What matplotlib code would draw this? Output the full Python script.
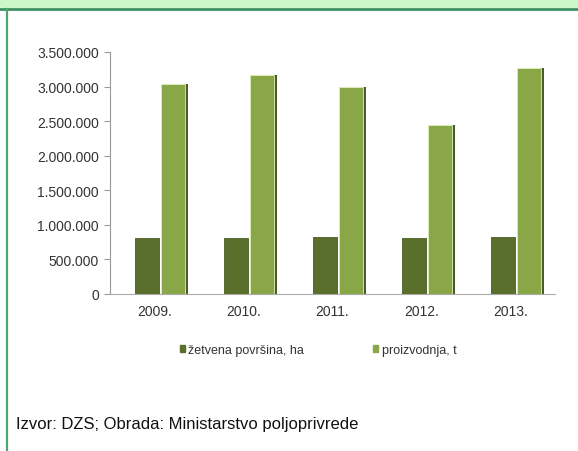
import matplotlib
matplotlib.use("Agg")
import matplotlib.pyplot as plt
from matplotlib.patches import Rectangle
from matplotlib.lines import Line2D
import numpy as np

years = ["2009.", "2010.", "2011.", "2012.", "2013."]
area_ha = [815000, 815000, 820000, 815000, 820000]
production_t = [3040000, 3170000, 3000000, 2450000, 3270000]
yticks = [0, 500000, 1000000, 1500000, 2000000, 2500000, 3000000, 3500000]
ytick_labels = ["0", "500.000", "1.000.000", "1.500.000", "2.000.000",
                "2.500.000", "3.000.000", "3.500.000"]
series_names = ["žetvena površina, ha", "proizvodnja, t"]
source_text = "Izvor: DZS; Obrada: Ministarstvo poljoprivrede"

W, H = 578, 452
fig = plt.figure(figsize=(W / 100, H / 100), dpi=100)
fig.patch.set_facecolor("white")

# frame decorations
fig.patches.append(Rectangle((0, 1 - 9 / H), 1, 9 / H, transform=fig.transFigure,
                             facecolor="#ccf7c6", edgecolor="none", zorder=0))
fig.lines.append(Line2D([0, 1], [1 - 10 / H, 1 - 10 / H], transform=fig.transFigure,
                        color="#3e9160", lw=2))
fig.lines.append(Line2D([6.5 / W, 6.5 / W], [0, 1 - 10 / H], transform=fig.transFigure,
                        color="#49a86a", lw=1.6))

ax_left, ax_right = 110, 555
ax_top, ax_bottom = 53, 295
ax = fig.add_axes([ax_left / W, 1 - ax_bottom / H, (ax_right - ax_left) / W,
                   (ax_bottom - ax_top) / H])
ax.set_facecolor("none")

x = np.arange(len(years))
w = 0.27
dark = "#5a6f2c"
light = "#89a747"
ax.bar(x - 0.08, area_ha, width=w, color=dark, edgecolor="#4a5c22", lw=0.6, zorder=3)
ax.bar(x + 0.205, production_t, width=w, color=light, edgecolor="#dfeebd", lw=0.6, zorder=3)
# 3D side shading of the taller bars
ax.bar(x + 0.205 + w / 2 + 0.02, production_t, width=0.04, color="#4b5a2b", lw=0, zorder=2)

ax.set_xlim(-0.5, len(years) - 0.5)
ax.set_ylim(0, 3500000)
ax.set_yticks(yticks)
ax.set_yticklabels(ytick_labels)
ax.set_xticks(x)
ax.set_xticklabels(years)

for s in ["top", "right"]:
    ax.spines[s].set_visible(False)
ax.spines["left"].set_color("#999999")
ax.spines["bottom"].set_color("#aaaaaa")
ax.spines["left"].set_linewidth(0.8)
ax.spines["bottom"].set_linewidth(0.8)
ax.tick_params(axis="y", length=4, color="#999999", labelsize=10, labelcolor="#333333", pad=4)
ax.tick_params(axis="x", length=0, labelsize=10, labelcolor="#333333", pad=7)
for lab in ax.get_xticklabels() + ax.get_yticklabels():
    lab.set_family("Liberation Sans")

handles = [Rectangle((0, 0), 1, 1, color=dark), Rectangle((0, 0), 1, 1, color=light)]
leg = fig.legend(handles, series_names, loc="center", bbox_to_anchor=(318 / W, 1 - 351 / H),
                 ncol=2, frameon=False, handlelength=0.4, handleheight=0.4,
                 handletextpad=0.3, columnspacing=5.5,
                 prop={"family": "Liberation Sans", "size": 9})
for t in leg.get_texts():
    t.set_color("#333333")

fig.text(16 / W, 1 - 425 / H, source_text, fontsize=12, family="Liberation Sans",
         color="#111111", va="center", ha="left")

fig.savefig("out.png", dpi=100)
